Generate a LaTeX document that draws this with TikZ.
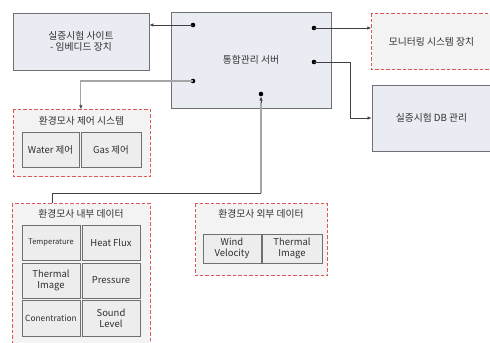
\documentclass[tikz,border=0pt]{standalone}
\usepackage{fontspec}
\setmainfont{Noto Sans CJK KR}
\usetikzlibrary{arrows.meta,calc}
\definecolor{boxfill}{HTML}{E9EDF3}
\definecolor{boxline}{HTML}{707070}
\definecolor{dfill}{HTML}{F3F3F3}
\definecolor{dline}{HTML}{E05555}
\definecolor{ifill}{HTML}{EDEDED}
\definecolor{txt}{HTML}{303030}
\definecolor{conn}{HTML}{404040}
\definecolor{connlight}{HTML}{A6A6A6}
\begin{document}
\begin{tikzpicture}[x=1bp,y=-1bp,
  font=\fontsize{9.8}{11.5}\selectfont,
  mainbox/.style={draw=boxline,fill=boxfill,line width=0.8bp,inner sep=0pt,text=txt,align=center},
  groupbox/.style={fill=dfill,inner sep=0pt,text=txt},
  groupline/.style={draw=dline,dash pattern=on 3.5bp off 2bp,line width=1.2bp},
  itembox/.style={draw=boxline,fill=ifill,line width=0.8bp,inner sep=0pt,text=txt,align=center,font=\fontsize{9.5}{11}\selectfont},
  title/.style={text=txt,inner sep=0pt},
  dot/.style={circle,fill=black,inner sep=0pt,minimum size=4.6bp},
  arr/.style={draw=conn,line width=0.6bp,-{Latex[length=4bp,width=3.4bp]}},
  arrlight/.style={draw=connlight,line width=1.3bp},
]
\useasboundingbox (0,0) rectangle (490,342);
\fill[white] (0,0) rectangle (490,342);
% main boxes
\node[mainbox,minimum width=136bp,minimum height=57bp] (site) at (81,41.5) {실증시험 사이트\\- 임베디드 장치};
\node[mainbox,minimum width=160bp,minimum height=96bp] (server) at (251,60) {통합관리 서버};
\node[groupbox,minimum width=120bp,minimum height=56bp] (mon) at (431.5,41.5) {모니터링 시스템 장치};
\draw[groupline] (mon.north west) rectangle (mon.south east);
\node[mainbox,minimum width=119bp,minimum height=66bp] (db) at (431.5,118) {실증시험 DB 관리};
% dots
\node[dot] (d1) at (193,25) {};
\node[dot] (d2) at (193,81) {};
\node[dot] (d3) at (314,28) {};
\node[dot] (d4) at (314,62) {};
\node[dot] (d5) at (261,94) {};
% env control group
\node[groupbox,minimum width=137bp,minimum height=67bp] (ctrl) at (82,143) {};
\draw[groupline] (ctrl.north west) rectangle (ctrl.south east);
\node[title] (ctrlt) at (81.5,121) {환경모사 제어 시스템};
\node[itembox,minimum width=57bp,minimum height=35bp] (water) at (50.5,149.5) {Water 제어};
\node[itembox,minimum width=60bp,minimum height=35bp] (gas) at (111,149.5) {Gas 제어};
% internal data group
\node[groupbox,minimum width=138bp,minimum height=145bp] (intd) at (81.5,276) {};
\draw[groupline] (intd.north west) rectangle (intd.south east);
\node[title] (intdt) at (81,214) {환경모사 내부 데이터};
\node[itembox,minimum width=58bp,minimum height=35bp,font=\fontsize{7.6}{9}\selectfont] (temp) at (51,242.5) {Temperature};
\node[itembox,minimum width=58bp,minimum height=35bp] (heat) at (111,242.5) {Heat Flux};
\node[itembox,minimum width=58bp,minimum height=35bp] (therm) at (51,280.5) {Thermal\\Image};
\node[itembox,minimum width=58bp,minimum height=35bp] (press) at (111,280.5) {Pressure};
\node[itembox,minimum width=58bp,minimum height=36bp,font=\fontsize{8.4}{10}\selectfont] (conc) at (51,318) {Conentration};
\node[itembox,minimum width=58bp,minimum height=36bp] (sound) at (111,318) {Sound\\Level};
% external data group
\node[groupbox,minimum width=132bp,minimum height=72bp] (extd) at (261.5,239.5) {};
\draw[groupline] (extd.north west) rectangle (extd.south east);
\node[title] (extdt) at (261,214) {환경모사 외부 데이터};
\node[itembox,minimum width=58bp,minimum height=29bp] (wind) at (232,248.5) {Wind\\Velocity};
\node[itembox,minimum width=60bp,minimum height=29bp] (etherm) at (292,248.5) {Thermal\\Image};
% connectors
\draw[arr] (d1.center) -- (site.east |- d1);
\draw[arr] (d3.center) -- (mon.west |- d3);
\draw[arr] (d4.center) -| ($(db.west)+(-21,0)$) -- (db.west);
\draw[arrlight] (d2.center) -| ($(ctrl.north west)+(67.5,-4)$);
\draw[arr] ($(ctrl.north west)+(67.5,-5)$) -- (ctrl.north west -| 81,0);
\coordinate (jn) at (261,193);
\draw[conn,line width=0.6bp] ($(intd.north west)+(39.5,0)$) |- (jn);
\draw[arrlight] (jn) -- ($(d5.south)+(0,5)$);
\draw[arr] ($(d5.south)+(0,6)$) -- (d5.south);
\end{tikzpicture}
\end{document}
